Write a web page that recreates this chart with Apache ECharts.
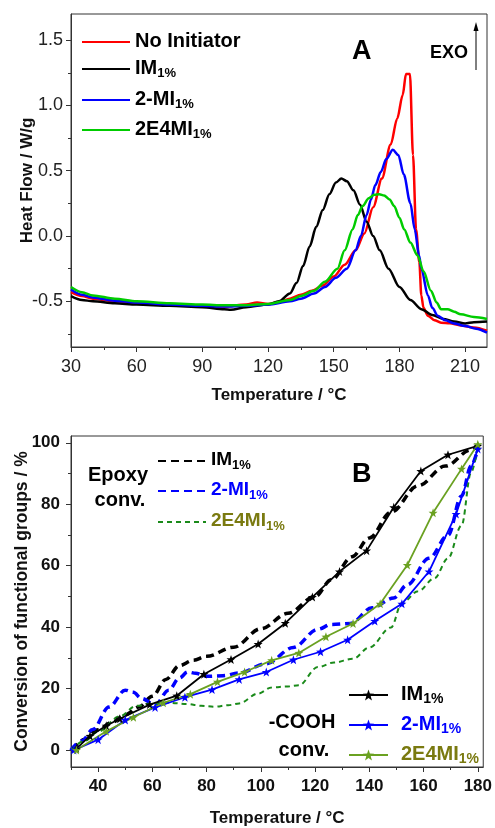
<!DOCTYPE html>
<html>
<head>
<meta charset="utf-8">
<script src="https://cdn.jsdelivr.net/npm/echarts@6/dist/echarts.min.js"></script>
<style>html,body{margin:0;padding:0;background:#fff;}#c{width:495px;height:828px;}</style>
</head>
<body>
<div id="c"></div>
<script>
// ---------- Panel A : DSC heat flow ----------
var noInitT = [30, 35, 40, 50, 60, 75, 90, 100, 110, 115, 120, 125, 130, 135, 140, 145, 150, 155, 160, 164, 168, 172, 176, 179, 181.5, 183, 184.8, 186.2, 187.6, 189.1, 190, 191, 193, 196, 199, 203, 208, 214, 220];
var noInitHF = [-0.43, -0.46, -0.48, -0.50, -0.51, -0.525, -0.535, -0.54, -0.525, -0.51, -0.52, -0.505, -0.48, -0.45, -0.42, -0.38, -0.31, -0.22, -0.11, 0.02, 0.22, 0.44, 0.70, 0.90, 1.08, 1.24, 1.24, 0.62, 0.05, -0.2, -0.455, -0.55, -0.61, -0.645, -0.664, -0.668, -0.685, -0.70, -0.725];
var imT = [30, 35, 40, 50, 60, 75, 90, 100, 103, 110, 120, 125, 130, 133, 136, 139, 142, 145, 148, 151, 153.5, 156, 159, 162, 165, 168, 171, 175, 180, 185, 190, 195, 200, 205, 210, 214, 220];
var imHF = [-0.46, -0.49, -0.50, -0.515, -0.525, -0.535, -0.545, -0.56, -0.565, -0.545, -0.525, -0.50, -0.44, -0.36, -0.23, -0.08, 0.07, 0.20, 0.32, 0.41, 0.44, 0.42, 0.35, 0.24, 0.11, 0.0, -0.11, -0.25, -0.39, -0.49, -0.56, -0.605, -0.635, -0.655, -0.67, -0.66, -0.655];
var mi2T = [30, 35, 40, 50, 60, 75, 90, 100, 110, 120, 130, 135, 141, 146, 151, 156, 160, 162.4, 165, 167, 169, 171.5, 174, 177, 179.5, 182, 185, 187, 189, 190, 193, 195, 197.5, 201, 205, 210, 215, 220];
var mi2HF = [-0.41, -0.45, -0.47, -0.495, -0.51, -0.525, -0.535, -0.54, -0.535, -0.525, -0.50, -0.48, -0.44, -0.39, -0.32, -0.25, -0.11, 0.0, 0.16, 0.28, 0.39, 0.49, 0.59, 0.66, 0.62, 0.47, 0.25, 0.05, -0.15, -0.25, -0.455, -0.55, -0.61, -0.645, -0.67, -0.69, -0.71, -0.74];
var e4miT = [30, 35, 40, 50, 60, 75, 90, 100, 110, 120, 130, 135, 141, 146, 151.7, 155, 158.6, 161, 163.2, 166, 168.5, 170.8, 173, 175.5, 177.6, 180, 182.2, 185, 188.3, 191, 194.4, 197, 199, 202, 205, 208, 214, 220];
var e4miHF = [-0.39, -0.43, -0.455, -0.48, -0.50, -0.515, -0.525, -0.53, -0.53, -0.52, -0.49, -0.46, -0.42, -0.35, -0.25, -0.11, 0.05, 0.16, 0.23, 0.29, 0.315, 0.32, 0.31, 0.28, 0.23, 0.14, 0.05, -0.05, -0.15, -0.27, -0.42, -0.51, -0.56, -0.56, -0.58, -0.60, -0.62, -0.635];
var aXTicks = [30, 60, 90, 120, 150, 180, 210];
var aXMinor = [45, 75, 105, 135, 165, 195];
var aYTicks = [-0.5, 0.0, 0.5, 1.0, 1.5];
var aYMinor = [-0.75, -0.25, 0.25, 0.75, 1.25];

// ---------- Panel B : conversion ----------
var imEpT = [30.5, 35, 40, 45, 50, 55, 60, 65, 70, 75, 80, 90, 100, 110, 120, 126, 133.6, 140, 148, 158, 168, 177.5, 180];
var imEpV = [0, 3.5, 6.6, 9, 11.5, 14, 17.5, 23, 27.5, 29.2, 30.5, 33.5, 39.5, 44.5, 50, 55.4, 62.9, 69, 77.4, 86, 92.4, 97.7, 99];
var mi2EpT = [30, 34, 38, 44, 50, 53, 56, 61, 66, 70, 73, 76, 80, 86, 92, 102, 112, 121, 126, 133, 141, 149, 154, 162, 169, 174, 177.5, 180];
var mi2EpV = [0, 3, 6.7, 14, 19.5, 18.8, 16.8, 14.7, 19.5, 23.5, 25.4, 25, 24, 24.2, 25.1, 28.1, 33.4, 39.3, 40.9, 41.2, 46.3, 49.5, 53.8, 62.4, 69.9, 82.7, 92.4, 98];
var e4miEpT = [30, 35, 40, 48, 54, 60, 66, 73, 78, 83, 88, 92, 99, 104, 110, 114, 121, 127, 134, 140, 148, 152, 158, 164, 169, 174, 177.5, 180];
var e4miEpV = [0, 3, 6, 11, 14.4, 15.2, 15.4, 15, 14.4, 14.1, 14.6, 15.2, 18.4, 20.4, 20.7, 21.1, 27, 28.5, 29.7, 33.4, 39.9, 47.9, 51.7, 55.9, 62.4, 73.1, 90.3, 99];
var imCoT = [32, 37, 43, 48, 59, 69, 79, 89, 99, 109, 119, 129, 139, 149, 159, 169, 180];
var imCoV = [0.5, 4.6, 7.9, 10.2, 14.8, 17.7, 24.7, 29.5, 34.5, 41.3, 49.8, 58.1, 64.9, 79, 90.8, 96.1, 99];
var mi2CoT = [31, 40, 50, 61, 72, 82, 92, 102, 112, 122, 132, 142, 152, 162, 172, 180];
var mi2CoV = [0, 3.4, 9.8, 13.9, 17.2, 19.7, 23, 25.4, 29.4, 32, 35.9, 42, 47.6, 58.1, 76.8, 98];
var e4miCoT = [32, 43, 53, 64, 74, 84, 94, 104, 114, 124, 134, 144, 154, 163.5, 174, 180];
var e4miCoV = [0, 6.1, 10.7, 15.4, 18.2, 22.2, 25.4, 29.2, 31.6, 36.9, 41.2, 47.6, 60.2, 77.2, 91.5, 99.5];
var bXTicks = [40, 60, 80, 100, 120, 140, 160, 180];
var bXMinor = [30, 50, 70, 90, 110, 130, 150, 170];
var bYTicks = [0, 20, 40, 60, 80, 100];
var bYMinor = [10, 30, 50, 70, 90];

function pairs(xs, ys) { return xs.map(function (x, i) { return [x, ys[i]]; }); }

var FF = '"Liberation Sans", Arial, sans-serif';
var STAR = 'path://M0,-10 L2.35,-3.24 L9.51,-3.09 L3.8,1.24 L5.88,8.09 L0,4 L-5.88,8.09 L-3.8,1.24 L-9.51,-3.09 L-2.35,-3.24 Z';
var OLIVE = '#7a7a10';

function mkAxis(kind, grid, min, max, ticks, fmt, opts) {
  opts = opts || {};
  var ax = {
    type: 'value', gridIndex: grid, min: min, max: max,
    position: kind === 'x' ? 'bottom' : 'left', offset: 0,
    axisLine: { show: true, onZero: false, lineStyle: { color: '#333', width: 1 } },
    axisTick: { show: true, length: 5, lineStyle: { color: '#333' }, customValues: ticks },
    axisLabel: { show: true, customValues: ticks, formatter: fmt, fontFamily: FF,
      fontSize: opts.fs || 18, fontWeight: opts.bold ? 'bold' : 'normal', color: opts.color || '#222', margin: opts.margin || 8 },
    splitLine: { show: false }
  };
  if (opts.name) {
    ax.name = opts.name; ax.nameLocation = 'middle'; ax.nameGap = opts.nameGap;
    ax.nameMoveOverlap = false;
    ax.nameTextStyle = { fontFamily: FF, fontWeight: 'bold', fontSize: opts.nfs || 17, color: '#111' };
  }
  return ax;
}
function mkMinor(kind, grid, min, max, ticks) {
  return {
    type: 'value', gridIndex: grid, min: min, max: max,
    position: kind === 'x' ? 'bottom' : 'left', offset: 0,
    axisLine: { show: false, onZero: false },
    axisTick: { show: true, length: 3, lineStyle: { color: '#333' }, customValues: ticks },
    axisLabel: { show: false }, splitLine: { show: false }
  };
}

function mkLegend(name, main, sub, color, left, lineY, itemW, fs, sfs, padL, noSym) {
  var lg = {
    data: [{ name: name }],
    left: left, top: lineY - 7, orient: 'vertical', itemWidth: itemW, itemHeight: 14,
    selectedMode: false, padding: 0,
    formatter: function () { return sub ? '{b|' + main + '}{s|' + sub + '}' : '{b|' + main + '}'; },
    textStyle: {
      padding: [0, 0, 0, padL || 0],
      rich: {
        b: { fontFamily: FF, fontWeight: 'bold', fontSize: fs, color: color, lineHeight: fs + 2, verticalAlign: 'top' },
        s: { fontFamily: FF, fontWeight: 'bold', fontSize: sfs, color: color, lineHeight: sfs, verticalAlign: 'bottom', padding: [fs * 0.55, 0, 0, 0] }
      }
    }
  };
  if (noSym) { lg.itemStyle = { opacity: 0 }; }
  return lg;
}

function lineA(name, xs, ys, color) {
  return { type: 'line', name: name, xAxisIndex: 0, yAxisIndex: 0, data: pairs(xs, ys), symbol: 'none',
    smooth: 0.3, smoothMonotone: 'x', lineStyle: { color: color, width: 2.5 }, itemStyle: { color: color }, z: 3 };
}
function lineEp(name, xs, ys, color, w, dash) {
  return { type: 'line', name: name, xAxisIndex: 2, yAxisIndex: 2, data: pairs(xs, ys), symbol: 'none',
    smooth: 0.35, smoothMonotone: 'x', lineStyle: { color: color, width: w, type: dash }, itemStyle: { color: color }, z: 2 };
}
function lineCo(name, xs, ys, color) {
  return { type: 'line', name: name, xAxisIndex: 2, yAxisIndex: 2, data: pairs(xs, ys), symbol: STAR, symbolSize: 9,
    showSymbol: true, lineStyle: { color: color, width: 1.8 }, itemStyle: { color: color }, z: 4 };
}

var chart = echarts.init(document.getElementById('c'), null, { renderer: 'canvas' });
var option = {
  backgroundColor: '#fff',
  animation: false,
  grid: [
    { left: 71, top: 14, width: 416, height: 333, show: true, borderColor: '#333', borderWidth: 1, backgroundColor: 'transparent' },
    { left: 71, top: 436, width: 414, height: 335, show: true, borderColor: '#333', borderWidth: 1, backgroundColor: 'transparent' }
  ],
  xAxis: [
    mkAxis('x', 0, 30, 220, aXTicks, function (v) { return String(v); }, { name: 'Temperature / °C', nameGap: 40, margin: 11 }),
    mkMinor('x', 0, 30, 220, aXMinor),
    mkAxis('x', 1, 30, 182, bXTicks, function (v) { return String(v); }, { bold: true, fs: 17, color: '#111', name: 'Temperature / °C', nameGap: 43, margin: 11 }),
    mkMinor('x', 1, 30, 182, bXMinor)
  ],
  yAxis: [
    mkAxis('y', 0, -0.85, 1.7, aYTicks, function (v) { return v.toFixed(1); }, { name: 'Heat Flow / W/g', nameGap: 35, margin: 8 }),
    mkMinor('y', 0, -0.85, 1.7, aYMinor),
    mkAxis('y', 1, -5.5, 102.2, bYTicks, function (v) { return String(v); }, { bold: true, fs: 17, color: '#111', name: 'Conversion of functional groups / %', nameGap: 40, margin: 11, nfs: 17.5 }),
    mkMinor('y', 1, -5.5, 102.2, bYMinor)
  ],
  legend: [
    mkLegend('No Initiator', 'No Initiator', '', '#000', 81, 38, 48, 20, 13, 0, true),
    mkLegend('IM A', 'IM', '1%', '#000', 81, 63, 48, 20, 13, 0, true),
    mkLegend('2-MI A', '2-MI', '1%', '#000', 81, 94, 48, 20, 13, 0, true),
    mkLegend('2E4MI A', '2E4MI', '1%', '#000', 81, 124, 48, 20, 13, 0, true),
    mkLegend('IM ep', 'IM', '1%', '#000', 157, 455, 48, 19, 13, 0, true),
    mkLegend('2-MI ep', '2-MI', '1%', '#0000ff', 157, 485, 48, 19, 13, 0, true),
    mkLegend('2E4MI ep', '2E4MI', '1%', OLIVE, 157, 516, 48, 19, 13, 0, true),
    mkLegend('IM co', 'IM', '1%', '#000', 348, 688, 39, 20, 14, 8, false),
    mkLegend('2-MI co', '2-MI', '1%', '#0000ff', 348, 718, 39, 20, 14, 8, false),
    mkLegend('2E4MI co', '2E4MI', '1%', OLIVE, 348, 748, 39, 20, 14, 8, false)
  ],
  series: [
    lineA('No Initiator', noInitT, noInitHF, '#ff0000'),
    lineA('IM A', imT, imHF, '#000000'),
    lineA('2-MI A', mi2T, mi2HF, '#0000ff'),
    lineA('2E4MI A', e4miT, e4miHF, '#00cc00'),
    lineEp('IM ep', imEpT, imEpV, '#000000', 3.5, [8, 5]),
    lineEp('2-MI ep', mi2EpT, mi2EpV, '#0000ff', 3.5, [8, 5]),
    lineEp('2E4MI ep', e4miEpT, e4miEpV, '#1a8a1a', 2, [5, 4]),
    lineCo('IM co', imCoT, imCoV, '#000000'),
    lineCo('2-MI co', mi2CoT, mi2CoV, '#0000ff'),
    lineCo('2E4MI co', e4miCoT, e4miCoV, '#6aa121')
  ],
  graphic: [
    { type: 'text', left: 352, top: 38, style: { text: 'A', font: 'bold 27px ' + FF, fill: '#000' } },
    { type: 'text', left: 430, top: 44, style: { text: 'EXO', font: 'bold 18px ' + FF, fill: '#000' } },
    { type: 'line', shape: { x1: 476, y1: 70, x2: 476, y2: 28 }, style: { stroke: '#000', lineWidth: 1 } },
    { type: 'polygon', shape: { points: [[476, 22], [473.5, 31], [478.5, 31]] }, style: { fill: '#000' } },
    { type: 'text', left: 352, top: 461, style: { text: 'B', font: 'bold 27px ' + FF, fill: '#000' } },
    { type: 'text', x: 118, y: 475, style: { text: 'Epoxy', font: 'bold 20px ' + FF, fill: '#000', align: 'center', verticalAlign: 'middle' } },
    { type: 'text', x: 120, y: 500, style: { text: 'conv.', font: 'bold 20px ' + FF, fill: '#000', align: 'center', verticalAlign: 'middle' } },
    { type: 'text', x: 302, y: 722, style: { text: '-COOH', font: 'bold 20px ' + FF, fill: '#000', align: 'center', verticalAlign: 'middle' } },
    { type: 'text', x: 304, y: 750, style: { text: 'conv.', font: 'bold 20px ' + FF, fill: '#000', align: 'center', verticalAlign: 'middle' } }
  ]
};
chart.setOption(option);
</script>
</body>
</html>
